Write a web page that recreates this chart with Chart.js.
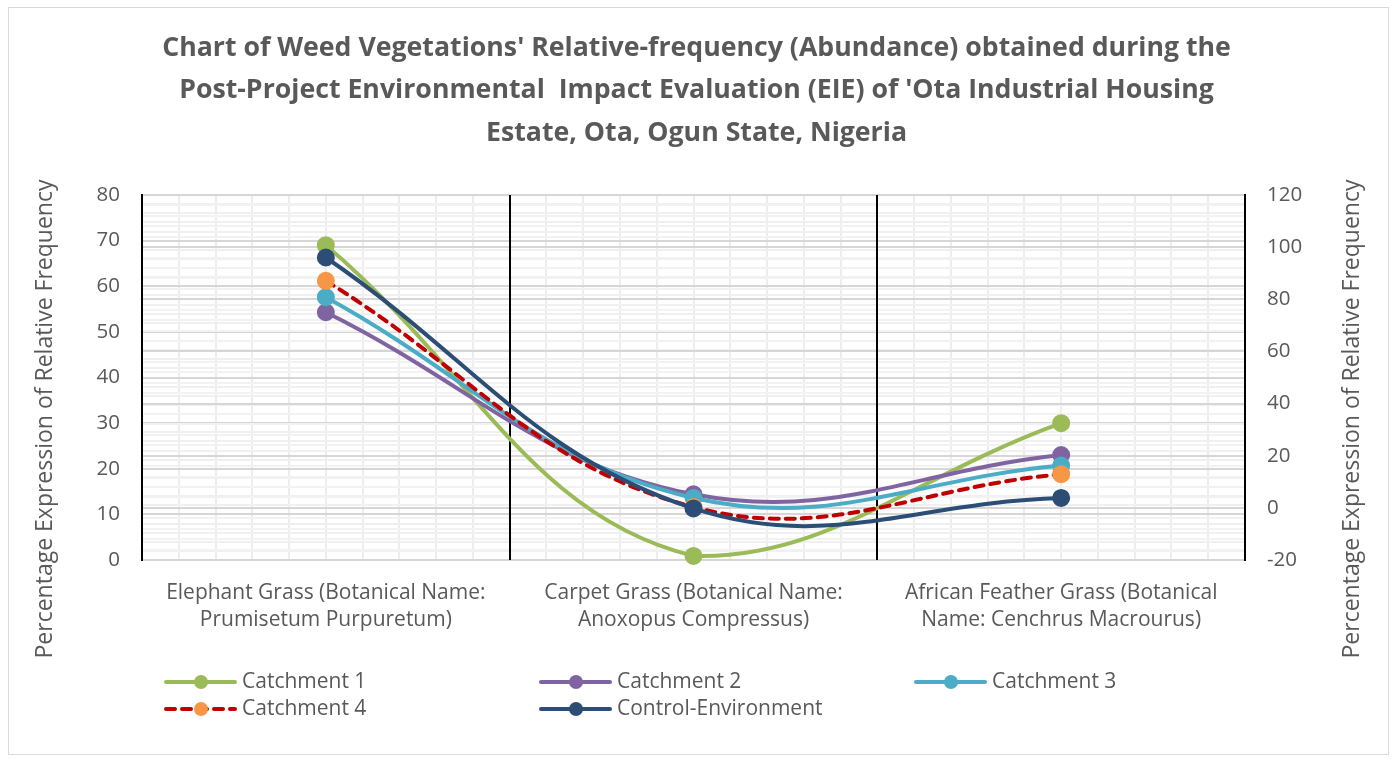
<!DOCTYPE html>
<html>
<head>
<meta charset="utf-8">
<script src="https://cdn.jsdelivr.net/npm/chart.js@4.4.1/dist/chart.umd.min.js"></script>
<style>
  html, body { margin: 0; padding: 0; background: #fff; }
  #wrap { position: relative; width: 1398px; height: 763px; }
  #frame { position: absolute; left: 8px; top: 7px; width: 1381px; height: 748px; border: 1px solid #d9d9d9; box-sizing: border-box; pointer-events: none; }
  canvas { position: absolute; left: 0; top: 0; }
</style>
</head>
<body>
<div id="wrap">
  <div id="frame"></div>
  <canvas id="c" width="1398" height="763"></canvas>
</div>
<script>
const titleLines = [
  "Chart of Weed Vegetations' Relative-frequency (Abundance) obtained during the",
  "Post-Project Environmental  Impact Evaluation (EIE) of 'Ota Industrial Housing",
  "Estate, Ota, Ogun State, Nigeria"
];
const categories = [
  ["Elephant Grass (Botanical Name:", "Prumisetum Purpuretum)"],
  ["Carpet Grass (Botanical Name:", "Anoxopus Compressus)"],
  ["African Feather Grass (Botanical", "Name: Cenchrus Macrourus)"]
];
const seriesNames = ["Catchment 1", "Catchment 2", "Catchment 3", "Catchment 4", "Control-Environment"];
const catchment1 = [69.0, 0.9, 30.0];
const catchment2 = [54.3, 14.4, 23.0];
const catchment3 = [57.6, 13.6, 20.7];
const catchment4 = [61.2, 11.6, 18.8];
const controlEnv = [66.3, 11.3, 13.6];
const leftTicks = [0, 10, 20, 30, 40, 50, 60, 70, 80];
const rightTicks = [-20, 0, 20, 40, 60, 80, 100, 120];
const axisTitle = "Percentage Expression of Relative Frequency";

const FONT = "'Open Sans', sans-serif";
const TXT = "#595959";

const styles = [
  { line: "#9BBB59", point: "#9BBB59", dash: [] },
  { line: "#8064A2", point: "#8064A2", dash: [] },
  { line: "#4BACC6", point: "#4BACC6", dash: [] },
  { line: "#C00000", point: "#F79646", dash: [9, 7] },
  { line: "#2C4D75", point: "#2C4D75", dash: [] }
];
const values = [catchment1, catchment2, catchment3, catchment4, controlEnv];

const datasets = values.map((v, i) => ({
  label: seriesNames[i],
  data: v,
  xAxisID: 'x',
  yAxisID: 'y',
  borderColor: styles[i].line,
  backgroundColor: styles[i].point,
  pointBackgroundColor: styles[i].point,
  pointBorderColor: styles[i].point,
  pointRadius: 7,
  pointHoverRadius: 7,
  borderWidth: 4,
  borderDash: styles[i].dash,
  borderCapStyle: i === 3 ? 'round' : 'butt',
  tension: 0.4,
  clip: false,
  order: 5 - i
}));

const decorPlugin = {
  id: 'decor',
  afterDraw(chart) {
    const ctx = chart.ctx;
    const area = chart.chartArea;
    ctx.save();
    // axis titles (both read bottom-to-top, as in the reference)
    ctx.fillStyle = TXT;
    ctx.font = "23px " + FONT;
    ctx.textAlign = 'center';
    ctx.textBaseline = 'middle';
    [45, 1352].forEach(x => {
      ctx.save();
      ctx.translate(x, area.top + 224);
      ctx.rotate(-Math.PI / 2);
      ctx.fillText(axisTitle, 0, 0);
      ctx.restore();
    });
    // legend
    const cols = [164, 539, 914];
    const rows = [682, 709];
    chart.data.datasets.forEach((ds, i) => {
      const x = cols[i % 3];
      const y = rows[Math.floor(i / 3)];
      ctx.strokeStyle = ds.borderColor;
      ctx.lineWidth = 4;
      ctx.lineCap = 'round';
      ctx.setLineDash(ds.borderDash.length ? [9, 7] : []);
      ctx.beginPath();
      ctx.moveTo(x + 2, y);
      ctx.lineTo(x + 71, y);
      ctx.stroke();
      ctx.setLineDash([]);
      ctx.fillStyle = ds.pointBackgroundColor;
      ctx.beginPath();
      ctx.arc(x + 37, y, 7, 0, Math.PI * 2);
      ctx.fill();
      ctx.fillStyle = TXT;
      ctx.font = "21px " + FONT;
      ctx.textAlign = 'left';
      ctx.textBaseline = 'middle';
      ctx.fillText(ds.label, x + 78, y);
    });
    ctx.restore();
  }
};

new Chart(document.getElementById('c'), {
  type: 'line',
  data: { labels: categories, datasets },
  plugins: [decorPlugin],
  options: {
    responsive: false,
    animation: false,
    events: [],
    layout: { padding: { left: 25, right: 30, top: 10, bottom: 110 } },
    plugins: {
      legend: { display: false },
      tooltip: { enabled: false },
      title: {
        display: true,
        text: titleLines,
        color: TXT,
        font: { family: FONT, size: 26.7, weight: 'bold', lineHeight: '42.5px' },
        padding: { top: 17, bottom: 40.5 }
      }
    },
    scales: {
      x: {
        type: 'category',
        position: 'bottom',
        offset: true,
        grid: { offset: true, color: '#000', lineWidth: 2, drawTicks: false, z: -1 },
        border: { display: false },
        ticks: { color: TXT, font: { family: FONT, size: 21, lineHeight: '27px' }, padding: 20, maxRotation: 0, autoSkip: false },
        afterFit(s) { s.height = 93; }
      },
      xm: {
        type: 'linear',
        position: 'bottom',
        min: 0, max: 30,
        ticks: { display: false, stepSize: 1 },
        grid: { color: '#ededed', lineWidth: 2, drawTicks: false, z: -3 },
        border: { display: false }
      },
      y: {
        position: 'left',
        min: 0, max: 80,
        ticks: {
          stepSize: 2, autoSkip: false, color: TXT, padding: 22,
          font: { family: FONT, size: 20.5 },
          callback: v => (leftTicks.includes(v) ? String(v) : '')
        },
        grid: {
          drawTicks: false,
          z: -2,
          color: c => (c.tick && c.tick.value % 10 === 0 ? '#d6d6d6' : '#f0f0f0'),
          lineWidth: 2
        },
        border: { display: true, color: '#000', width: 2 },
        afterFit(s) { s.width = 117; }
      },
      y2: {
        position: 'right',
        min: -20, max: 120,
        ticks: {
          stepSize: 4, autoSkip: false, color: TXT, padding: 22,
          font: { family: FONT, size: 20.5 },
          callback: v => (rightTicks.includes(v) ? String(v) : '')
        },
        grid: {
          drawTicks: false,
          z: -2,
          color: c => (c.tick && c.tick.value % 20 === 0 ? '#d6d6d6' : '#f2f2f2'),
          lineWidth: 2
        },
        border: { display: true, color: '#000', width: 2 },
        afterFit(s) { s.width = 123; }
      }
    }
  }
});
</script>
</body>
</html>
